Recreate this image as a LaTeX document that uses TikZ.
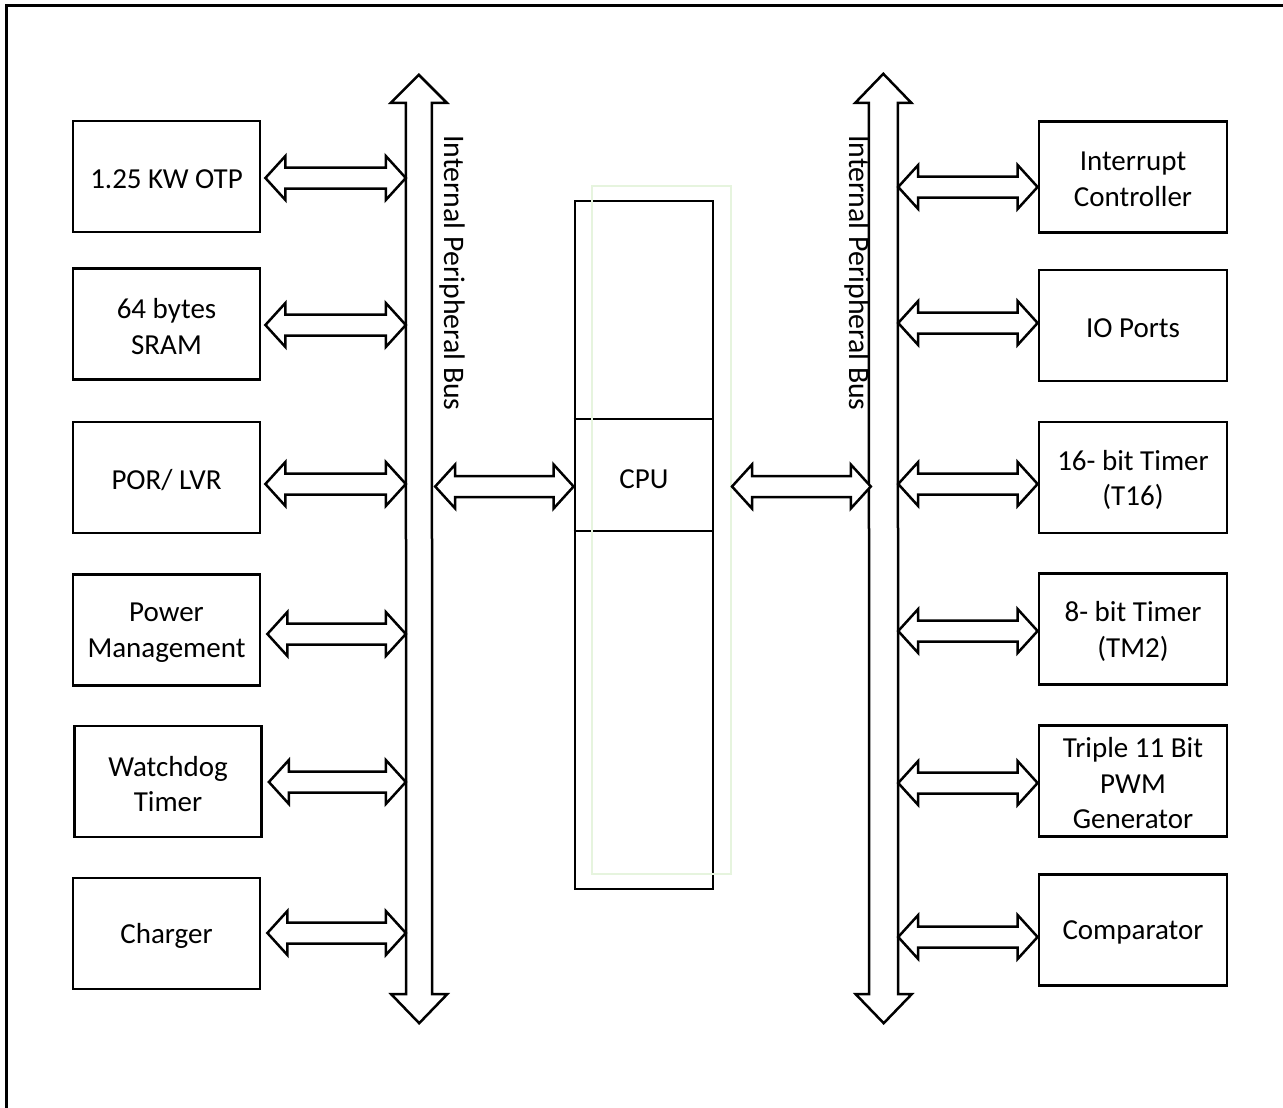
\documentclass[tikz,border=0pt]{standalone}
\usepackage{fontspec}
\setmainfont{Carlito}
\usetikzlibrary{calc}
\definecolor{faintgreen}{RGB}{230,244,222}
\newcommand\dblarrow[2]{%
  \draw[arr] let \p1=#1, \p2=#2 in
    (\x1,\y1) -- ++(20pt,22pt) -- ++(0pt,-11.5pt) -- (\x2-20pt,\y1+10.5pt)
    -- ++(0pt,11.5pt) -- (\x2,\y1) -- ++(-20pt,-22pt) -- ++(0pt,11.5pt)
    -- (\x1+20pt,\y1-10.5pt) -- ++(0pt,-11.5pt) -- cycle;}
\begin{document}
\begin{tikzpicture}[x=1pt,y=-1pt,
  boxtext/.style={inner sep=0pt, align=center, yshift=-2.5pt,
    font=\fontsize{29}{35.5}\selectfont},
  box/.style={draw, line width=2.8pt, minimum width=187pt, minimum height=111pt,
    inner sep=0pt, label={[boxtext]center:#1}},
  arr/.style={draw, line width=2.5pt, fill=white, line join=miter},
  busshaft/.style={inner sep=0pt, minimum height=891pt},
  buslabel/.style={rotate=-90, anchor=west, inner sep=0pt,
    font=\fontsize{29.8}{35}\selectfont}]
\useasboundingbox (0,0) rectangle (1283,1108);
% outer frame (only top and left edges visible)
\draw[line width=3pt] (6,1108) -- (6,6) -- (1283,6);

% left blocks
\node[box={1.25 KW OTP}] (l1) at (166.5,176.5) {};
\node[box={64 bytes\\SRAM}] (l2) at (166.5,324) {};
\node[box={POR/ LVR}] (l3) at (166.5,477.5) {};
\node[box={Power\\Management}] (l4) at (166.5,630) {};
\node[box={Watchdog\\Timer}] (l5) at (168,781.5) {};
\node[box={Charger}] (l6) at (166.5,933.5) {};

% right blocks
\node[box={Interrupt\\Controller}, minimum width=188pt] (r1) at (1133,177) {};
\node[box={IO Ports}, minimum width=188pt] (r2) at (1133,325.5) {};
\node[box={16- bit Timer\\(T16)}, minimum width=188pt] (r3) at (1133,477.5) {};
\node[box={8- bit Timer\\(TM2)}, minimum width=188pt] (r4) at (1133,629) {};
\node[box={Triple 11 Bit\\PWM\\Generator}, minimum width=188pt] (r5) at (1133,781) {};
\node[box={Comparator}, minimum width=188pt] (r6) at (1133,930) {};

% CPU
\node[draw, line width=2.8pt, minimum width=138pt, minimum height=688pt, inner sep=0pt] (cpu) at (644,545) {};
\draw[line width=2.5pt] (cpu.west |- 0,419) -- (cpu.east |- 0,419);
\draw[line width=2.5pt] (cpu.west |- 0,531) -- (cpu.east |- 0,531);
\node[boxtext, yshift=0pt] (cputext) at (644,477) {CPU};
\node[draw=faintgreen, line width=2pt, minimum width=139pt, minimum height=688pt, inner sep=0pt] (gframe) at (661.5,530) {};

% buses
\node[busshaft, minimum width=26pt] (lbus) at (419,548.5) {};
\draw[arr] (lbus.north west) -- ++(-15,0) -- ++(28,-28) -- ++(28,28) -- ++(-15,0)
  -- (lbus.south east) -- ++(15,0) -- ++(-28,29) -- ++(-28,-29) -- ++(15,0) -- cycle;
\node[busshaft, minimum width=29pt] (rbus) at (883.5,548.5) {};
\draw[arr] (rbus.north west) -- ++(-13.5,0) -- ++(28,-29) -- ++(28,29) -- ++(-13.5,0)
  -- (rbus.south east) -- ++(13.5,0) -- ++(-28,29) -- ++(-28,-29) -- ++(13.5,0) -- cycle;
\node[buslabel] (llab) at (452.5,135) {Internal Peripheral Bus};
\node[buslabel] (rlab) at (857,135) {Internal Peripheral Bus};

% left connectors
\dblarrow{($(l1.east)+(4,1.5)$)}{(l1.east -| lbus.west)}
\dblarrow{($(l2.east)+(4,1)$)}{(l2.east -| lbus.west)}
\dblarrow{($(l3.east)+(4,6.5)$)}{(l3.east -| lbus.west)}
\dblarrow{($(l4.east)+(6,4)$)}{(l4.east -| lbus.west)}
\dblarrow{($(l5.east)+(6,0.5)$)}{(l5.east -| lbus.west)}
\dblarrow{($(l6.east)+(6,-0.5)$)}{(l6.east -| lbus.west)}

% right connectors
\dblarrow{($(r1.west -| rbus.east)+(0,10)$)}{(r1.west)}
\dblarrow{($(r2.west -| rbus.east)+(0,-2.5)$)}{(r2.west)}
\dblarrow{($(r3.west -| rbus.east)+(0,6.5)$)}{(r3.west)}
\dblarrow{($(r4.west -| rbus.east)+(0,2)$)}{(r4.west)}
\dblarrow{($(r5.west -| rbus.east)+(0,2)$)}{(r5.west)}
\dblarrow{($(r6.west -| rbus.east)+(0,7)$)}{(r6.west)}

% CPU connectors
\dblarrow{($(lbus.east |- cputext)+(3,7)$)}{(cpu.west)}
\dblarrow{($(gframe.east |- cputext)+(0,7)$)}{($(rbus.west)+(2,0)$)}
\end{tikzpicture}
\end{document}
